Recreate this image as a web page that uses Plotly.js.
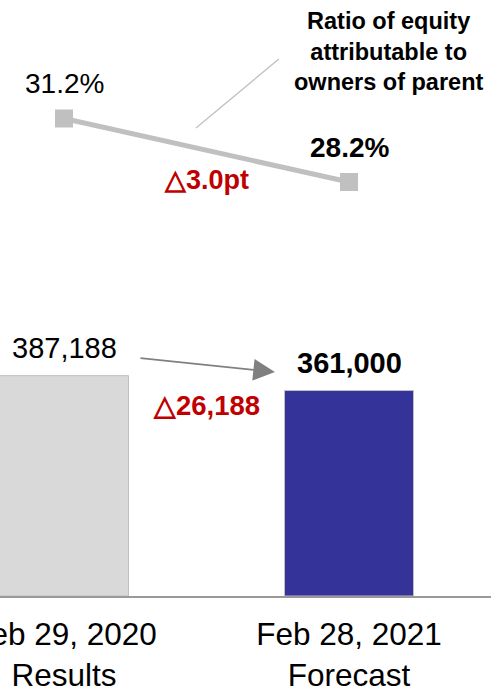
<!DOCTYPE html>
<html>
<head>
<meta charset="utf-8">
<script src="https://cdn.plot.ly/plotly-3.0.1.min.js"></script>
<style>html,body{margin:0;padding:0;background:#fff;}#chart{width:491px;height:688px;}</style>
</head>
<body>
<div id="chart"></div>
<script>
const categories = ["Feb 29, 2020<br>Results", "Feb 28, 2021<br>Forecast"];
const equityValues = [387188, 361000];
const ratioValues = [31.2, 28.2];
const seriesName = "Ratio of equity<br>attributable to<br>owners of parent";

const FONT = "Arial, 'Liberation Sans', sans-serif";
const fmt = v => v.toLocaleString("en-US");

const barTrace = {
  type: "bar",
  x: categories,
  y: equityValues,
  width: 0.4526,
  marker: {color: ["#d9d9d9", "#333399"], line: {color: "#bfbfbf", width: 1}},
  hoverinfo: "skip"
};
const lineTrace = {
  type: "scatter",
  mode: "lines+markers",
  x: categories,
  y: ratioValues,
  yaxis: "y2",
  line: {color: "#c0c0c0", width: 5},
  marker: {symbol: "square", size: 18, color: "#c0c0c0"},
  hoverinfo: "skip"
};

const annotations = [
  {x: categories[0], y: ratioValues[0], xref: "x", yref: "y2", text: ratioValues[0].toFixed(1) + "%",
   showarrow: false, yshift: 35, font: {family: FONT, size: 28, color: "#000"}},
  {x: categories[1], y: ratioValues[1], xref: "x", yref: "y2", text: "<b>" + ratioValues[1].toFixed(1) + "%</b>",
   showarrow: false, yshift: 35, font: {family: FONT, size: 28, color: "#000"}},
  {x: 0.5, y: (ratioValues[0] + ratioValues[1]) / 2, xref: "x", yref: "y2",
   text: "<b>△" + (ratioValues[0] - ratioValues[1]).toFixed(1) + "pt</b>",
   showarrow: false, xshift: 0, yshift: -30, font: {family: FONT, size: 27, color: "#c00000"}},
  {x: categories[0], y: equityValues[0], xref: "x", yref: "y", text: fmt(equityValues[0]),
   showarrow: false, yshift: 28, font: {family: FONT, size: 29, color: "#000"}},
  {x: categories[1], y: equityValues[1], xref: "x", yref: "y", text: "<b>" + fmt(equityValues[1]) + "</b>",
   showarrow: false, yshift: 28, font: {family: FONT, size: 29, color: "#000"}},
  {x: 0.5, y: (equityValues[0] + equityValues[1]) / 2, xref: "x", yref: "y",
   text: "<b>△" + fmt(equityValues[0] - equityValues[1]) + "</b>",
   showarrow: false, xshift: 0, yshift: -22, font: {family: FONT, size: 27.5, color: "#c00000"}},
  {x: 0.740, y: 393500, xref: "x", yref: "y", ax: 0.263, ay: 418200, axref: "x", ayref: "y",
   text: "", showarrow: true, arrowhead: 2, arrowsize: 2.7, arrowwidth: 1.6, arrowcolor: "#808080"},
  {x: 1.14, y: 1, xref: "x", yref: "paper", yanchor: "top", text: "<b>" + seriesName + "</b>",
   showarrow: false, yshift: -6, font: {family: FONT, size: 23.5, color: "#000"}}
];

const shapes = [
  {type: "line", xref: "x", yref: "paper", x0: 0.463, x1: 0.754, y0: 1 - 128/596, y1: 1 - 59/596,
   line: {color: "#c0c0c0", width: 1.3}}
];

const layout = {
  width: 491, height: 688,
  margin: {l: 0, r: 0, t: 0, b: 92, pad: 0},
  paper_bgcolor: "#fff", plot_bgcolor: "#fff",
  showlegend: false,
  xaxis: {type: "category", range: [-0.2246, 1.4982], showline: true, linecolor: "#999999", linewidth: 1.5,
          ticks: "", ticklabelstandoff: 10, showgrid: false, zeroline: false,
          tickfont: {family: FONT, size: 31.5, color: "#000"}},
  yaxis: {range: [0, 1047172], visible: false, showgrid: false, zeroline: false},
  yaxis2: {range: [8.645, 36.797], overlaying: "y", visible: false, showgrid: false, zeroline: false},
  annotations: annotations,
  shapes: shapes
};

Plotly.newPlot("chart", [barTrace, lineTrace], layout, {displayModeBar: false, staticPlot: true});
</script>
</body>
</html>
